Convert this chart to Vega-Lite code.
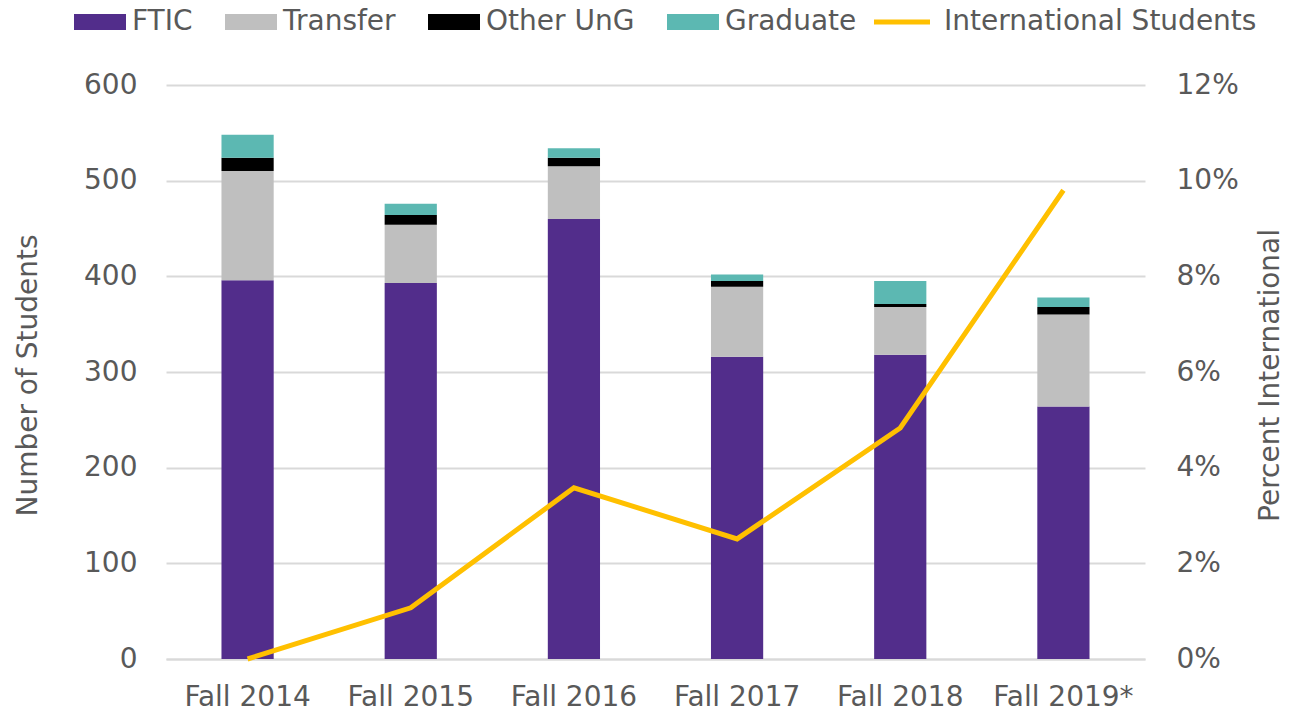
{
  "$schema": "https://vega.github.io/schema/vega-lite/v6.json",
  "width": 979,
  "height": 574,
  "autosize": {"type": "none"},
  "padding": {"left": 166, "top": 85, "right": 152, "bottom": 53},
  "background": "white",
  "config": {
    "view": {"stroke": null},
    "font": "DejaVu Sans",
    "axis": {
      "labelFont": "DejaVu Sans",
      "labelFontSize": 28,
      "labelColor": "#595959",
      "titleFont": "DejaVu Sans",
      "titleFontSize": 28,
      "titleFontWeight": "normal",
      "titleColor": "#595959",
      "ticks": false,
      "domain": false,
      "gridColor": "#d9d9d9",
      "gridWidth": 2
    },
    "legend": {
      "labelFont": "DejaVu Sans",
      "labelFontSize": 28,
      "labelColor": "#595959",
      "labelLimit": 0
    }
  },
  "datasets": {
    "bars": [
      {"year": "Fall 2014", "series": "FTIC", "value": 396},
      {"year": "Fall 2014", "series": "Transfer", "value": 114},
      {"year": "Fall 2014", "series": "Other UnG", "value": 14},
      {"year": "Fall 2014", "series": "Graduate", "value": 24},
      {"year": "Fall 2015", "series": "FTIC", "value": 393},
      {"year": "Fall 2015", "series": "Transfer", "value": 61},
      {"year": "Fall 2015", "series": "Other UnG", "value": 10},
      {"year": "Fall 2015", "series": "Graduate", "value": 12},
      {"year": "Fall 2016", "series": "FTIC", "value": 460},
      {"year": "Fall 2016", "series": "Transfer", "value": 55},
      {"year": "Fall 2016", "series": "Other UnG", "value": 9},
      {"year": "Fall 2016", "series": "Graduate", "value": 10},
      {"year": "Fall 2017", "series": "FTIC", "value": 316},
      {"year": "Fall 2017", "series": "Transfer", "value": 73},
      {"year": "Fall 2017", "series": "Other UnG", "value": 6},
      {"year": "Fall 2017", "series": "Graduate", "value": 7},
      {"year": "Fall 2018", "series": "FTIC", "value": 318},
      {"year": "Fall 2018", "series": "Transfer", "value": 50},
      {"year": "Fall 2018", "series": "Other UnG", "value": 3},
      {"year": "Fall 2018", "series": "Graduate", "value": 24},
      {"year": "Fall 2019*", "series": "FTIC", "value": 264},
      {"year": "Fall 2019*", "series": "Transfer", "value": 96},
      {"year": "Fall 2019*", "series": "Other UnG", "value": 8},
      {"year": "Fall 2019*", "series": "Graduate", "value": 10}
    ],
    "line": [
      {"year": "Fall 2014", "pct": 0.0},
      {"year": "Fall 2015", "pct": 0.0107},
      {"year": "Fall 2016", "pct": 0.0358},
      {"year": "Fall 2017", "pct": 0.0251},
      {"year": "Fall 2018", "pct": 0.0483},
      {"year": "Fall 2019*", "pct": 0.098}
    ]
  },
  "layer": [
    {
      "data": {"name": "bars"},
      "transform": [
        {"calculate": "indexof(['FTIC','Transfer','Other UnG','Graduate'], datum.series)", "as": "stackRank"}
      ],
      "mark": {"type": "bar"},
      "encoding": {
        "x": {
          "field": "year",
          "type": "nominal",
          "sort": ["Fall 2014", "Fall 2015", "Fall 2016", "Fall 2017", "Fall 2018", "Fall 2019*"],
          "scale": {"paddingInner": 0.68, "paddingOuter": 0.34},
          "axis": {
            "title": null,
            "labelAngle": 0,
            "labelPadding": 24,
            "domain": true,
            "domainColor": "#d9d9d9",
            "domainWidth": 2,
            "grid": false
          }
        },
        "y": {
          "field": "value",
          "type": "quantitative",
          "stack": "zero",
          "scale": {"domain": [0, 600]},
          "axis": {
            "values": [0, 100, 200, 300, 400, 500, 600],
            "grid": true,
            "labelPadding": 29,
            "title": "Number of Students",
            "titleAngle": 270,
            "titleX": -138,
            "titleY": 290,
            "titleAlign": "center",
            "titleBaseline": "middle"
          }
        },
        "order": {"field": "stackRank", "type": "quantitative", "sort": "ascending"},
        "color": {
          "field": "series",
          "type": "nominal",
          "sort": ["FTIC", "Transfer", "Other UnG", "Graduate"],
          "scale": {
            "domain": ["FTIC", "Transfer", "Other UnG", "Graduate"],
            "range": ["#522D8B", "#BFBFBF", "#000000", "#5CB8B2"]
          },
          "legend": {
            "title": null,
            "orient": "none",
            "direction": "horizontal",
            "legendX": -80,
            "legendY": -77,
            "symbolType": "M-3.25,-1H3.25V1H-3.25Z",
            "symbolSize": 256,
            "symbolStrokeWidth": 0,
            "symbolOpacity": 1,
            "labelOffset": 18,
            "columnPadding": 32
          }
        }
      }
    },
    {
      "data": {"name": "line"},
      "mark": {"type": "line", "strokeWidth": 5, "strokeJoin": "miter"},
      "encoding": {
        "x": {
          "field": "year",
          "type": "nominal",
          "sort": ["Fall 2014", "Fall 2015", "Fall 2016", "Fall 2017", "Fall 2018", "Fall 2019*"]
        },
        "y": {
          "field": "pct",
          "type": "quantitative",
          "scale": {"domain": [0, 0.12]},
          "axis": {
            "orient": "right",
            "values": [0, 0.02, 0.04, 0.06, 0.08, 0.1, 0.12],
            "format": ".0%",
            "grid": false,
            "labelPadding": 31,
            "title": "Percent International",
            "titleAngle": 270,
            "titleX": 125,
            "titleY": 290,
            "titleAlign": "center",
            "titleBaseline": "middle"
          }
        },
        "stroke": {
          "datum": "International Students",
          "type": "nominal",
          "scale": {"domain": ["International Students"], "range": ["#FFC000"]},
          "legend": {
            "title": null,
            "orient": "none",
            "direction": "horizontal",
            "legendX": 722,
            "legendY": -77,
            "symbolType": "M-3.5,0H3.5",
            "symbolSize": 256,
            "symbolStrokeWidth": 5,
            "labelOffset": 28
          }
        }
      }
    }
  ],
  "resolve": {"scale": {"y": "independent"}}
}
